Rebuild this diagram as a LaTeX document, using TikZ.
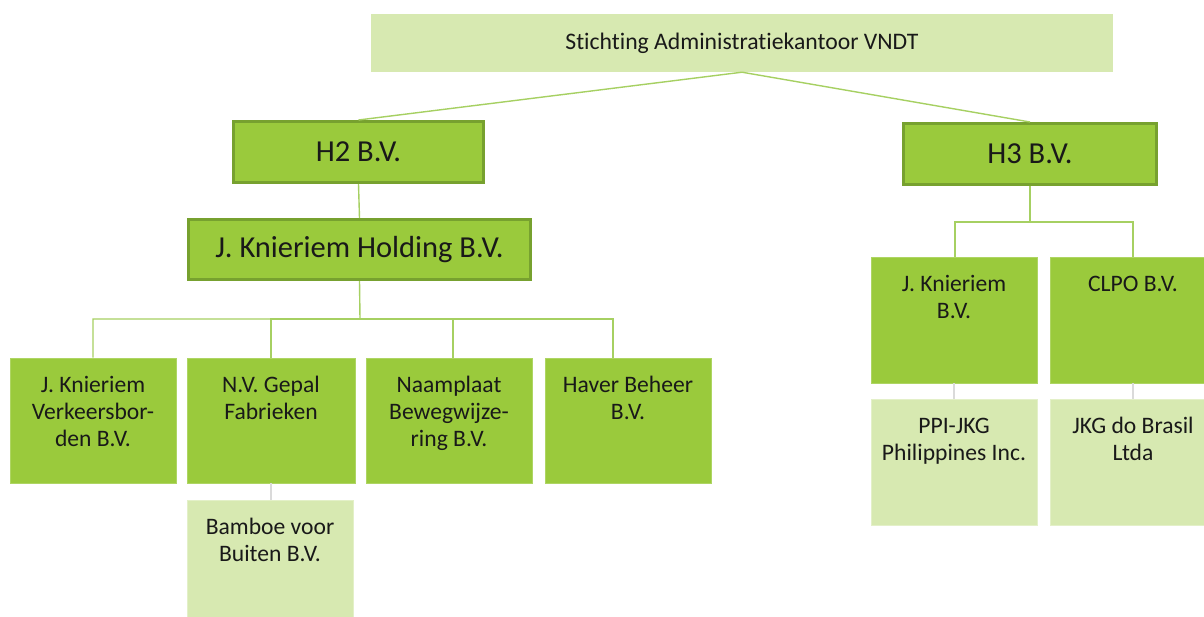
\documentclass[tikz,border=0pt]{standalone}
\usepackage{fontspec}
\setmainfont{Carlito}[Ligatures={NoCommon,NoRequired,NoContextual}]
\newcommand{\firststrut}{\rule{0pt}{19pt}}
\definecolor{leafgreen}{HTML}{9ACA3C}
\definecolor{edgegreen}{HTML}{77A12F}
\definecolor{palegreen}{HTML}{D7E9B1}
\definecolor{linkgreen}{HTML}{A6D062}
\definecolor{linkgray}{HTML}{DADADA}
\begin{document}
\begin{tikzpicture}[x=1pt,y=-1pt,
  topbox/.style={rectangle, fill=palegreen, inner sep=0, minimum width=742pt, minimum height=58pt,
    font=\fontsize{23.7}{27}\selectfont, text=black!90},
  levelbox/.style={rectangle, fill=leafgreen, draw=edgegreen, line width=3pt, inner sep=0,
    minimum height=61pt, font=\fontsize{30.5}{34}\selectfont, text=black!90},
  childbox/.style={rectangle, fill=leafgreen, draw=leafgreen!80!white, line width=0.8pt, inner sep=0,
    minimum width=166pt, minimum height=125pt},
  palebox/.style={rectangle, fill=palegreen, draw=palegreen!70!white, line width=0.8pt, inner sep=0,
    minimum width=166pt, minimum height=126pt},
  boxtext/.style={anchor=north, inner sep=0, align=center, font=\fontsize{23.6}{27}\selectfont, text=black!90},
  link/.style={draw=linkgreen, line width=1.4pt},
  graylink/.style={draw=linkgray, line width=1.4pt}]
\clip (0,0) rectangle (1204,616);
\fill[white] (0,0) rectangle (1204,616);

% top
\node[topbox] (top) at (742,43) {Stichting Administratiekantoor VNDT};

% level 1
\node[levelbox, minimum width=250pt] (h2) at (358.5,152) {H2 B.V.};
\node[levelbox, minimum width=253pt] (h3) at (1030,154) {H3 B.V.};
\node[levelbox, minimum width=342pt, minimum height=60pt] (jkh) at (359.5,249.5) {J. Knieriem Holding B.V.};

% children of holding
\node[childbox] (c1) at (93,420.5) {};
\node[childbox, minimum width=168pt] (c2) at (271,420.5) {};
\node[childbox] (c3) at (449,420.5) {};
\node[childbox] (c4) at (628,420.5) {};
\node[palebox] (bam) at (270,563) {};

% right side
\node[childbox, minimum height=126pt] (r1) at (954,320) {};
\node[childbox, minimum height=126pt] (r2) at (1133,320) {};
\node[palebox] (p1) at (954,462) {};
\node[palebox] (p2) at (1133,462) {};

% texts
\node[boxtext] (t1) at ([yshift=-16]c1.north) {\firststrut J. Knieriem\\Verkeersbor-\\den B.V.};
\node[boxtext] (t2) at ([yshift=-16]c2.north) {\firststrut N.V. Gepal\\Fabrieken};
\node[boxtext] (t3) at ([yshift=-16]c3.north) {\firststrut Naamplaat\\Bewegwijze-\\ring B.V.};
\node[boxtext] (t4) at ([yshift=-16]c4.north) {\firststrut Haver Beheer\\B.V.};
\node[boxtext] (t5) at ([yshift=-16]bam.north) {\firststrut Bamboe voor\\Buiten B.V.};
\node[boxtext] (t6) at ([yshift=-16]r1.north) {\firststrut J. Knieriem\\B.V.};
\node[boxtext] (t7) at ([yshift=-16]r2.north) {\firststrut CLPO B.V.};
\node[boxtext] (t8) at ([yshift=-16]p1.north) {\firststrut PPI-JKG\\Philippines Inc.};
\node[boxtext] (t9) at ([yshift=-16]p2.north) {\firststrut JKG do Brasil\\Ltda};

% connectors
\coordinate (bus1) at (360,319);
\coordinate (bus2) at (1030,222);
\draw[link] (top.south) -- (h2.north);
\draw[link] (top.south) -- (h3.north);
\draw[link] (h2.south) -- (jkh.north);
\draw[link] (jkh.south) -- (bus1) -| (c1.north);
\draw[link] (bus1) -| (c2.north);
\draw[link] (bus1) -| ([xshift=4]c3.north);
\draw[link] (bus1) -| ([xshift=-15]c4.north);
\draw[link] (h3.south) -- (bus2) -| ([xshift=1]r1.north);
\draw[link] (bus2) -| (r2.north);
\draw[graylink] (c2.south) -- ([xshift=1]bam.north);
\draw[graylink] (r1.south) -- (p1.north);
\draw[graylink] (r2.south) -- (p2.north);
\end{tikzpicture}
\end{document}
